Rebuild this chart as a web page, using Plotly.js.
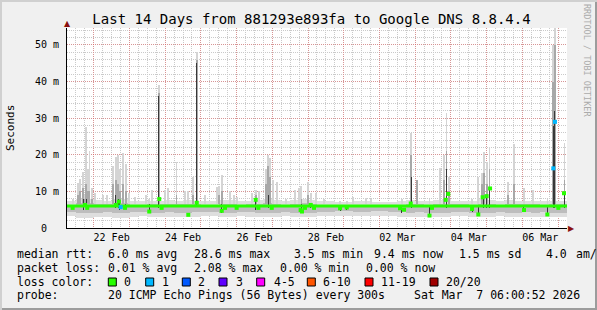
<!DOCTYPE html>
<html><head><meta charset="utf-8">
<script src="https://cdn.plot.ly/plotly-3.0.1.min.js"></script>
<style>
html,body{margin:0;padding:0;background:#f0f0f0;}
#wrap{position:relative;width:597px;height:310px;background:#f0f0f0;box-shadow:inset 2px 2px 0 #d0d0d0, inset -2px -2px 0 #9c9c9c;overflow:hidden;}
#chart{position:absolute;left:0;top:0;width:597px;height:310px;}
</style></head>
<body><div id="wrap"><div id="chart"></div></div>
<script>
// ---- time frame (14 days ending Sat Mar 7 06:00:52 2026) ----
const startMs = Date.UTC(2026,1,21,6,0,52);
const H = 3600e3;
const spanHours = 336;

// ---- smoke band, 6-hour bins (56 bins), values in ms ----
const bandLo = [3.2,2.7,2.6,2.9,3.0,2.7,2.8,3.1, 3.2,3.0,3.0,3.1,3.0,3.0,3.1,3.2, 3.2,3.0,3.0,3.2,3.1,3.0,2.9,3.0, 3.2,3.0,2.9,3.0,3.3,3.3,3.4,3.4, 3.3,3.3,3.4,3.4,3.3,3.1,3.0,3.1, 3.0,3.0,2.9,3.2,3.2,3.0,2.9,2.9, 3.2,3.0,3.0,3.1,3.0,3.1,3.0,3.0];
const bandHi = [7.3,7.8,7.8,7.6,7.5,7.8,7.8,7.4, 7.3,7.5,7.5,7.6,7.5,7.6,7.5,7.4, 7.3,7.6,7.6,7.3,7.5,7.6,7.8,7.6, 7.4,7.6,7.8,7.6,7.3,7.3,7.1,7.2, 7.3,7.3,7.2,7.1,7.1,7.3,7.6,7.5, 7.3,7.6,7.8,7.3,7.3,7.5,7.8,7.6, 7.3,7.6,7.5,7.5,7.5,7.3,7.5,7.5];
const midLo  = [4.4,4.0,4.0,4.2,4.3,4.0,4.1,4.4, 4.3,4.2,4.2,4.3,4.2,4.2,4.3,4.4, 4.4,4.2,4.2,4.4,4.3,4.2,4.1,4.2, 4.3,4.2,4.1,4.2,4.5,4.5,4.6,4.6, 4.5,4.5,4.6,4.6,4.5,4.3,4.2,4.3, 4.2,4.2,4.1,4.4,4.4,4.2,4.1,4.1, 4.4,4.2,4.2,4.3,4.2,4.3,4.2,4.2];
const midHi  = [6.4,6.7,6.7,6.6,6.5,6.7,6.7,6.4, 6.4,6.5,6.5,6.6,6.5,6.6,6.5,6.4, 6.4,6.6,6.6,6.4,6.5,6.6,6.7,6.6, 6.4,6.6,6.7,6.6,6.3,6.3,6.2,6.2, 6.3,6.3,6.2,6.2,6.2,6.3,6.6,6.5, 6.3,6.6,6.5,6.5,6.5,6.3,6.5,6.5, 6.3,6.6,6.5,6.5,6.5,6.3,6.5,6.5];

// ---- individual spikes: hour offset, light top, medium top, dark low/high (ms) ----
const spkHr  = [3.8,7.4,8.7,10.8,12.1,12.8,14.1,15.1,16.8,18.8,24.2,26.9,30.9,32.9,34.3,35.6,37.6,39.6,41.7,45.7,53.1,55.3,57.1,61.8,65.9,67.9,73.6,79.3,81.3,84.7,87.2,92.7,101.1,102.1,104.0,109.5,112.2,114.2,124.3,126.8,129,133.7,135.1,136.4,138.4,141.1,147.2,153.2,155.9,157.5,162,163.8,167.3,172.7,183.5,188.0,192.2,200.9,204.3,225,231.2,235.2,243.6,250.7,253.3,255,256.7,272.2,276.2,278.9,280.2,282.2,283.9,296.4,300.4,306.8,313.2,322.9,326.8,327.9,334.3];
const spkTop = [8,12.3,13.5,15.3,9,27.7,16,21,11,9.5,9,9,17,19.5,20,16,20.5,17.5,9.5,8.5,9,8,10.5,39,10.5,11,18,10,10,14,48,9,11.3,11.5,14.5,10,9,8.5,9.5,10.4,10,16,20,19,13,12.6,8,10.5,11,11.5,12.5,9.5,9.5,8,7.5,7.5,8.6,8.3,8,8,26,13,8,16.4,20,31.4,14,8,14,15,20.8,18,22.2,12.7,23,10.9,10.4,8,50,54.6,23.2];
const spkMid = [null,9,10,11,8,12,10,10,8,null,null,null,12,13,12,10,12,10,null,null,null,null,null,37,null,null,9,null,null,9,46,null,null,9,10,null,null,null,null,9,null,12,17,14,null,null,null,null,null,8,9,null,null,null,null,null,null,null,null,null,20,13,null,null,13,21,10,null,null,12,15,12,16,9,12,null,null,null,40,50,13];
const spkDkLo = [5.3,null,null,5.0,5.0,5.5,5.0,null,null,null,null,null,null,5.5,5.5,5.0,null,5.2,null,null,null,4.2,null,5.5,null,null,null,null,3.5,null,5.8,null,null,null,4.1,null,null,5.2,null,4.8,null,null,5.5,null,null,null,null,null,null,4.0,null,5.5,null,null,4.6,5.0,null,null,null,4.0,5.5,null,3.2,null,null,5.5,5.5,4.5,3.6,null,5.5,5.5,5.5,null,null,4.8,null,3.6,5.5,5.5,5.5];
const spkDkHi = [6.0,null,null,8,7.5,8,6.5,null,null,null,null,null,null,9,8,7,null,6.5,null,null,null,6.5,null,36,null,null,null,null,6.5,null,45,null,null,null,6.5,null,null,6.2,null,8.2,null,null,9,null,null,null,null,null,null,6.5,null,6.6,null,null,6.2,6.2,null,null,null,6.2,14,null,6.2,null,null,16,9.5,6.2,6.2,null,8.5,9,10.9,null,null,6.2,null,6.2,28,32,9.5];

// ---- median rtt ----
const medBaseHr = [0,336];
const medBaseMs = [6.0,6.0];
const excHr  = [3.8,12.1,13.6,32.9,34.9,36.1,39.0,55.3,62.0,63.6,81.5,87.2,104.0,106.2,114.0,126.8,128.6,137.6,157.0,157.9,159.9,163.8,166.0,183.5,188.0,223.8,226.5,231.0,243.6,245.3,254.5,256.2,272.2,276.4,279.3,282.0,284.3,307.1,322.8,326.8,327.9,330.2,334.0];
const excMs  = [5.5,6.3,5.5,6.3,7.2,5.7,5.5,4.5,7.9,5.5,3.6,6.9,4.7,5.5,5.5,7.7,5.5,5.5,4.9,4.5,5.5,6.3,5.5,5.4,5.6,5.4,5.0,6.7,3.4,5.5,7.7,9.3,5.2,3.7,8.4,8.7,10.8,4.9,3.7,16.3,29.0,5.5,9.5];
const excLoss= [0,0,0,0,0,1,0,0,0,0,0,0,0,0,0,0,0,0,0,0,0,0,0,0,0,0,0,0,0,0,0,0,0,0,0,0,0,0,0,1,1,0,0];

// ---- axis labels ----
const dayLabels = ['22 Feb','24 Feb','26 Feb','28 Feb','02 Mar','04 Mar','06 Mar'];
const labelDays = [[1,22],[1,24],[1,26],[1,28],[2,2],[2,4],[2,6]];
const yTickVals = [0,10,20,30,40,50];
const yTickText = ['0\u00a0\u00a0','10 m','20 m','30 m','40 m','50 m'];

// ---- legend ----
const lossColors = ['#26ff00','#00b8ff','#0059ff','#5e00ff','#ff00ff','#ff5500','#ff0000','#a00000'];
const lossLabels = ['0','1','2','3','4-5','6-10','11-19','20/20'];

const X = h => startMs + h*H;
const binX = bandLo.map((_,i)=>X(i*6+3));
const common = {type:'bar', hoverinfo:'skip', showlegend:false};

const traces = [];
traces.push(Object.assign({}, common, {x:binX, base:bandLo, y:bandHi.map((v,i)=>v-bandLo[i]), width:6*H, marker:{color:'#dedede', line:{width:0}}}));
traces.push(Object.assign({}, common, {x:binX, base:midLo, y:midHi.map((v,i)=>v-midLo[i]), width:6*H, marker:{color:'#bdbdbd', line:{width:0}}}));
const sX = spkHr.map(X);
traces.push(Object.assign({}, common, {x:sX, base:spkTop.map(()=>6.5), y:spkTop.map(v=>v-6.5), width:1.3*H, marker:{color:'#d4d4d4', line:{width:0}}}));
traces.push(Object.assign({}, common, {x:sX, base:spkMid.map(()=>6.5), y:spkMid.map(v=>v==null?null:v-6.5), width:1.1*H, marker:{color:'#a8a8a8', line:{width:0}}}));
traces.push(Object.assign({}, common, {x:sX, base:spkDkLo, y:spkDkHi.map((v,i)=>v==null?null:v-spkDkLo[i]), width:0.65*H, marker:{color:'#383838', line:{width:0}}}));
traces.push({type:'scatter', mode:'lines', x:medBaseHr.map(X), y:medBaseMs, line:{color:'#26ff00', width:3}, hoverinfo:'skip', showlegend:false});
traces.push({type:'scatter', mode:'markers', x:excHr.map(X), y:excMs, marker:{symbol:'square', size:4, color:excLoss.map(l=>lossColors[l]), line:{width:0}}, hoverinfo:'skip', showlegend:false});
// carrier for the grid axis
traces.push({type:'scatter', mode:'markers', x:[X(0)], y:[0], xaxis:'x2', marker:{opacity:0}, hoverinfo:'skip', showlegend:false});

const midnights = [];
for (let k=0;k<14;k++) midnights.push(Date.UTC(2026,1,22+k));
const noonTicks = labelDays.map(d=>Date.UTC(2026,d[0],d[1],12));

const px = p => (p-67)/500;
const py = p => (228-p)/200;
const mono = 'DejaVu Sans Mono';
const ann = [];
function txt(x,y,s,size,extra){ann.push(Object.assign({x:px(x),y:py(y),xref:'paper',yref:'paper',xanchor:'left',yanchor:'middle',showarrow:false,text:s.replace(/ /g,'\u00a0'),font:{family:mono,size:size||11.5,color:'#000'},borderpad:0},extra||{}));}
txt(16,254.3,'median rtt:'); txt(107,254.3,'6.0 ms avg'); txt(193,254.3,'28.6 ms max'); txt(293,254.3,'3.5 ms min'); txt(373,254.3,'9.4 ms now'); txt(458,254.3,'1.5 ms sd'); txt(545,254.3,'4.0'); txt(575,254.3,'am/');
txt(16,268,'packet loss:'); txt(107,268,'0.01 % avg'); txt(193,268,'2.08 % max'); txt(279,268,'0.00 % min'); txt(365,268,'0.00 % now');
txt(16,281.8,'loss color:');
const boxX = [108.3,145.7,182.3,219,256.7,307.3,365,430];
const labX = [123.3,160.7,197.3,235,272.7,321.7,380,445];
const shapes = [];
lossLabels.forEach((l,i)=>{
  txt(labX[i],281.8,l);
  shapes.push({type:'rect',xref:'paper',yref:'paper',x0:px(boxX[i]),x1:px(boxX[i]+8),y0:py(286),y1:py(278),fillcolor:lossColors[i],line:{color:'#000',width:1}});
});
txt(16,295.3,'probe:'); txt(107,295.3,'20 ICMP Echo Pings (56 Bytes) every 300s'); txt(413,295.3,'Sat Mar  7 06:00:52 2026');
ann.push({x:px(10),y:py(128),xref:'paper',yref:'paper',xanchor:'center',yanchor:'middle',showarrow:false,textangle:-90,text:'Seconds',font:{family:mono,size:11,color:'#000'}});
ann.push({x:px(587),y:py(60),xref:'paper',yref:'paper',xanchor:'center',yanchor:'middle',showarrow:false,textangle:90,text:'RRDTOOL / TOBI OETIKER'.replace(/ /g,'\u00a0'),font:{family:mono,size:8.5,color:'#ababab'}});
ann.push({x:px(67),y:py(24),xref:'paper',yref:'paper',xanchor:'center',yanchor:'middle',showarrow:false,text:'\u25B2',font:{family:'DejaVu Sans',size:8,color:'#8b1010'}});
ann.push({x:px(571),y:py(228),xref:'paper',yref:'paper',xanchor:'center',yanchor:'middle',showarrow:false,text:'\u25B6',font:{family:'DejaVu Sans',size:8,color:'#8b1010'}});

const redGrid = 'rgba(255,0,0,0.26)';
const grayGrid = '#cacaca';
const layout = {
  width:597, height:310,
  margin:{l:67, r:30, t:28, b:82, pad:0},
  paper_bgcolor:'rgba(0,0,0,0)', plot_bgcolor:'#ffffff',
  barmode:'overlay', bargap:0, showlegend:false,
  font:{family:mono, size:10, color:'#000'},
  title:{text:'Last 14 Days from 881293e893fa to Google DNS 8.8.4.4', font:{family:mono, size:14, color:'#000'}, x:311.5/597, xref:'container', xanchor:'center', y:1-19/310, yref:'container', yanchor:'middle'},
  xaxis:{type:'date', range:[X(0), X(spanHours)], tickvals:noonTicks, ticktext:dayLabels,
    showgrid:false, showline:true, linecolor:'#000', linewidth:1, ticks:'', zeroline:false,
    tickfont:{family:mono,size:10,color:'#000'}, fixedrange:true},
  xaxis2:{type:'date', overlaying:'x', anchor:'y', side:'bottom', range:[X(0), X(spanHours)], tickvals:midnights,
    showticklabels:false, ticks:'', showline:false, zeroline:false,
    showgrid:true, gridcolor:redGrid, griddash:'1px,1px', gridwidth:1,
    minor:{dtick:6*H, tick0:'2026-02-22', showgrid:true, gridcolor:grayGrid, griddash:'1px,1px', gridwidth:1}, fixedrange:true},
  yaxis:{range:[0,54.64], tickvals:yTickVals, ticktext:yTickText,
    showgrid:true, gridcolor:redGrid, griddash:'1px,1px', gridwidth:1,
    minor:{dtick:2, tick0:0, showgrid:true, gridcolor:grayGrid, griddash:'1px,1px', gridwidth:1},
    showline:true, linecolor:'#000', linewidth:1, ticks:'', zeroline:false, ticklabelstandoff:5, tickfont:{family:mono,size:10,color:'#000'}, fixedrange:true},
  annotations:ann, shapes:shapes
};
Plotly.newPlot('chart', traces, layout, {staticPlot:true, displayModeBar:false});
</script></body></html>
